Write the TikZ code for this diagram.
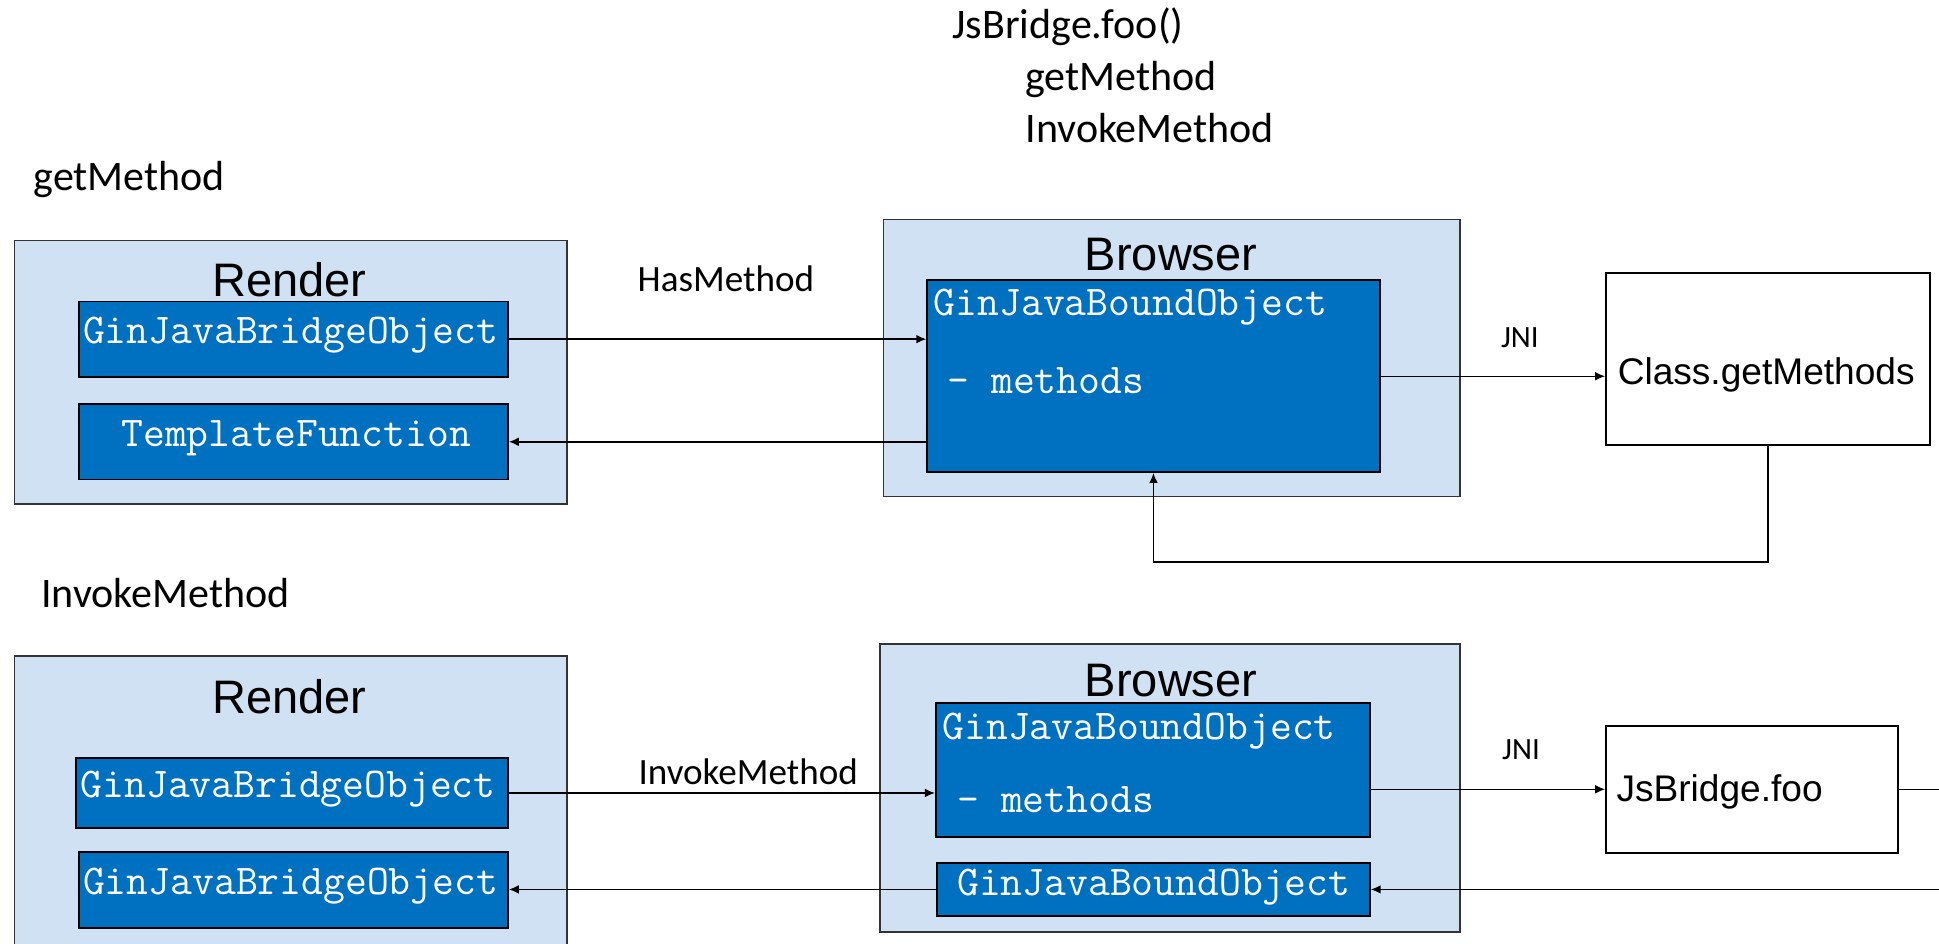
\documentclass[tikz,border=0pt]{standalone}
\usepackage{fontspec}
\newfontfamily\calibri{Carlito}
\newfontfamily\arial{Liberation Sans}
\usetikzlibrary{arrows.meta}
\definecolor{paleblue}{RGB}{207,225,242}
\definecolor{deepblue}{RGB}{0,112,192}

\begin{document}
\begin{tikzpicture}[x=1pt,y=-1pt,
  outerbox/.style={draw=black!80,fill=paleblue,line width=1.2pt,inner sep=0,anchor=north west},
  codebox/.style={draw=black,fill=deepblue,line width=1.5pt,inner sep=0,anchor=north west},
  plainbox/.style={draw=black,fill=white,line width=1.5pt,inner sep=0,anchor=north west},
  code/.style={font=\fontsize{34.3}{36}\selectfont\ttfamily,text=white,inner sep=0,anchor=base west},
  title/.style={font=\fontsize{38}{44}\selectfont\arial,inner sep=0,text depth=0pt,anchor=base},
  arialtxt/.style={font=\fontsize{30}{34}\selectfont\arial,inner sep=0,anchor=base west},
  note/.style={font=\fontsize{34}{42}\selectfont\calibri,inner sep=0,anchor=base west},
  lbl/.style={font=\fontsize{30}{36}\selectfont\calibri,inner sep=0,anchor=base},
  conn/.style={line width=1.2pt,-{Latex[length=8pt,width=7pt]}}]
\clip (0,0) rectangle (1568,763);

% call order
\node[note] (callfoo) at (770,31) {JsBridge.foo()};
\node[note] (callget) at (829,73) {getMethod};
\node[note] (callinv) at (829,115) {InvokeMethod};

%% getMethod
\node[note] (getcap) at (27,154) {getMethod};
\node[outerbox,minimum width=447pt,minimum height=213pt] (render1) at (11,194) {};
\node[title] (render1t) at (234,240) {Render};
\node[codebox,minimum width=347pt,minimum height=61pt] (bridge1) at (63,243) {};
\node[code] (bridge1t) at (67,278) {GinJavaBridgeObject};
\node[codebox,minimum width=347pt,minimum height=61pt] (templ1) at (63,326) {};
\node[code,anchor=base] (templ1t) at (239.5,361) {TemplateFunction};

\node[outerbox,minimum width=466pt,minimum height=224pt] (browser1) at (714,177) {};
\node[title] (browser1t) at (947,219) {Browser};
\node[codebox,minimum width=366pt,minimum height=155pt] (bound1) at (749,226) {};
\node[code] (bound1t) at (755,255) {GinJavaBoundObject};
\node[code] (bound1m) at (766,318) {- methods};

\node[plainbox,minimum width=262pt,minimum height=139pt] (cls) at (1298,220) {};
\node[arialtxt] (clst) at (1308,311) {Class.getMethods};

\draw[conn] (bridge1.east) -- (bridge1.east -| bound1.west);
\draw[conn] (templ1.east -| bound1.west) -- (templ1.east);
\node[lbl] (hasm) at (587,236) {HasMethod};
\draw[conn] (bound1.east) -- (bound1.east -| cls.west);
\node[lbl,font=\fontsize{25}{30}\selectfont\calibri] (jni1) at (1229,281) {JNI};
\draw[conn] (cls.south) -- ++(0,94) -| (bound1.south);

%% InvokeMethod
\node[note] (invcap) at (33,491) {InvokeMethod};
\node[outerbox,minimum width=447pt,minimum height=270pt] (render2) at (11,530) {};
\node[title] (render2t) at (234,577) {Render};
\node[codebox,minimum width=349pt,minimum height=57pt] (bridge2) at (61,612) {};
\node[code] (bridge2t) at (65,645) {GinJavaBridgeObject};
\node[codebox,minimum width=347pt,minimum height=62pt] (bridge3) at (63,688) {};
\node[code] (bridge3t) at (67,723) {GinJavaBridgeObject};

\node[outerbox,minimum width=469pt,minimum height=233pt] (browser2) at (711,520) {};
\node[title] (browser2t) at (947,563) {Browser};
\node[codebox,minimum width=351pt,minimum height=108pt] (bound2) at (756,568) {};
\node[code] (bound2t) at (762,598) {GinJavaBoundObject};
\node[code] (bound2m) at (774,657) {- methods};
\node[codebox,minimum width=350pt,minimum height=43pt] (bound3) at (757,697) {};
\node[code,anchor=base] (bound3t) at (933,724) {GinJavaBoundObject};

\node[plainbox,minimum width=236pt,minimum height=103pt] (foo) at (1298,586) {};
\node[arialtxt] (foot) at (1307,648) {JsBridge.foo};

\draw[conn] (bridge2.east) -- (bridge2.east -| bound2.west);
\node[lbl] (invm) at (605,634) {InvokeMethod};
\draw[conn] (bound3.west) -- (bound3.west -| bridge3.east);
\draw[conn] (foo.west -| bound2.east) -- (foo.west);
\node[lbl,font=\fontsize{25}{30}\selectfont\calibri] (jni2) at (1230,614) {JNI};
\draw[conn] (foo.east) -- ++(60,0) |- (bound3.east);
\end{tikzpicture}
\end{document}
